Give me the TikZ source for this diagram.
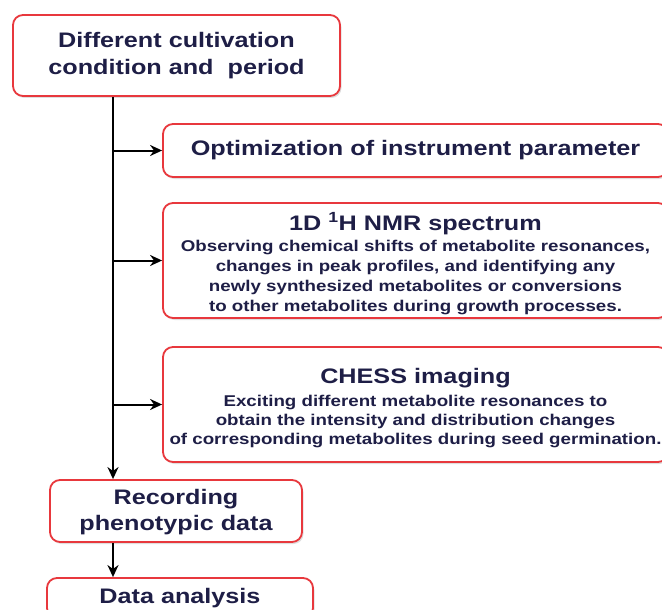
\documentclass[tikz,border=0pt]{standalone}
\usepackage{fontspec}
\newfontfamily\boxfont{Liberation Sans}[FakeStretch=1.2]
\usetikzlibrary{arrows.meta,shadows}
\definecolor{boxred}{HTML}{E8383D}
\definecolor{inkblue}{HTML}{1E1E46}
\newcommand{\titlefont}{\fontsize{21}{27}\selectfont}

\begin{document}
\begin{tikzpicture}[x=1pt,y=-1pt,->,>={Stealth[length=12pt,width=11pt]},line width=2pt,
    main node/.style={rectangle,rounded corners=10pt,draw=boxred,line width=1.8pt,fill=white,align=center,text=inkblue,inner sep=0pt,
        drop shadow={shadow xshift=1.5pt,shadow yshift=-2pt,opacity=0.25},font=\boxfont\bfseries\titlefont},
    body node/.style={main node,font=\boxfont\bfseries\fontsize{15.6}{#1}\selectfont}]
    \useasboundingbox (0,0) rectangle (662,610);
    \clip (0,0) rectangle (662,610);

    \node[main node,minimum width=327pt,minimum height=81pt] (1) at (176.5,55.5) {Different cultivation\\condition and\ \ period};
    \node[main node,minimum width=505pt,minimum height=53pt] (2) at (415.5,150.5) {Optimization of instrument parameter};
    \node[body node=20pt,minimum width=505pt,minimum height=115pt] (3) at (415.5,260.5)
        {{\titlefont\rule{0pt}{24pt}1D \textsuperscript{1}H NMR spectrum}\\[1pt]
        Observing chemical shifts of metabolite resonances,\\
        changes in peak profiles, and identifying any\\
        newly synthesized metabolites or conversions\\
        to other metabolites during growth processes.};
    \node[body node=19pt,minimum width=505pt,minimum height=115pt] (4) at (415.5,404.5)
        {{\titlefont\rule{0pt}{23pt}CHESS imaging}\\[4pt]
        Exciting different metabolite resonances to\\
        obtain the intensity and distribution changes\\
        of corresponding metabolites during seed germination.};
    \node[main node,minimum width=252pt,minimum height=62pt,font=\boxfont\bfseries\fontsize{21}{26}\selectfont] (5) at (176,511) {\rule{0pt}{18pt}Recording\\phenotypic data};
    \node[main node,minimum width=266pt,minimum height=40pt] (6) at (180,598) {Data analysis};

    % spine and branches
    \coordinate (s) at (113,0);
    \draw (1.south -| s) -- (5.north -| s);
    \foreach \n in {2,3,4}
        \draw (s |- \n.west) -- (\n.west);
    \draw (5.south -| s) -- (6.north -| s);
\end{tikzpicture}
\end{document}
